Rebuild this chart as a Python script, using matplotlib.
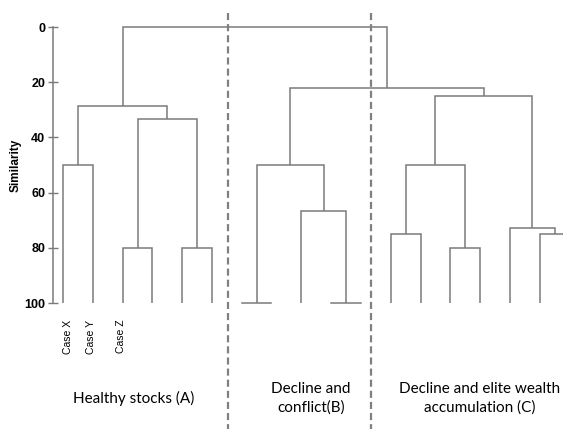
import matplotlib
matplotlib.use("Agg")
import matplotlib.pyplot as plt

# ---- data ----
group_names = ["Healthy stocks (A)", "Decline and\nconflict(B)", "Decline and elite wealth\naccumulation (C)"]
group_sizes = [6, 3, 7]
case_labels = ["Case X", "Case Y", "Case Z"]
# linkage rows: (left id, right id, similarity); leaves are 0..15, clusters 16..
merge_left = [0, 2, 4, 17, 16, 7, 6, 9, 11, 23, 14, 13, 25, 22, 20]
merge_right = [1, 3, 5, 18, 19, 8, 21, 10, 12, 24, 15, 26, 27, 28, 29]
merge_height = [50, 80, 80, 33.3, 28.5, 66.5, 50, 75, 80, 50, 75, 72.8, 25, 22.2, 0]
y_ticks = [0, 20, 40, 60, 80, 100]

# ---- layout ----
W, H = 563, 429
fig = plt.figure(figsize=(W / 100, H / 100), dpi=100)
x0_px, unit_px = 63, 29.8
ax_left_px, ax_top_px, ax_bot_px = 53, 27, 303
ax = fig.add_axes([ax_left_px / W, 1 - ax_bot_px / H, (W - ax_left_px) / W, (ax_bot_px - ax_top_px) / H])
ax.set_xlim((ax_left_px - x0_px) / unit_px, (W - x0_px) / unit_px)
ax.set_ylim(100, 0)

# leaf positions: groups separated, group B spread wider
steps = [1.0, 1.5, 1.0]
starts = [0.0, 6.5, 11.0]
leaf_x = []
for s, st, n in zip(starts, steps, group_sizes):
    leaf_x += [s + st * i for i in range(n)]
n_leaves = len(leaf_x)

pos = {i: leaf_x[i] for i in range(n_leaves)}
hgt = {i: 100 for i in range(n_leaves)}
lc = "#7a7a7a"
lw = 1.1
for k, (l, r, h) in enumerate(zip(merge_left, merge_right, merge_height)):
    cid = n_leaves + k
    xl, xr = pos[l], pos[r]
    ax.plot([xl, xl, xr, xr], [hgt[l], h, h, hgt[r]], color=lc, lw=lw, clip_on=False,
            solid_capstyle="butt", solid_joinstyle="miter")
    pos[cid] = (xl + xr) / 2
    hgt[cid] = h

# small T bars at the two outer leaves of group B
for i in (6, 8):
    ax.plot([leaf_x[i] - 0.49, leaf_x[i] + 0.49], [100, 100], color=lc, lw=lw, clip_on=False)

# dashed separators
for xs in [(228 - x0_px) / unit_px, (371 - x0_px) / unit_px]:
    ax.plot([xs, xs], [-5, 150], color="#808080", lw=1.6, ls=(0, (3.2, 1.8)), clip_on=False)

# axes styling
for s in ["top", "right", "bottom"]:
    ax.spines[s].set_visible(False)
ax.spines["left"].set_color(lc)
ax.spines["left"].set_linewidth(1.1)
ax.set_xticks([])
ax.set_yticks(y_ticks)
ax.tick_params(axis="y", direction="inout", length=7, width=1.0, color=lc,
               labelsize=9, pad=2)
for t in ax.get_yticklabels():
    t.set_fontweight("bold")
    t.set_family("Liberation Sans")
ax.set_ylabel("Similarity", fontsize=8.5, family="Liberation Sans", fontweight="bold", labelpad=2)

# case labels
case_offsets = [0.17, -0.06, -0.05]
for i, lab in enumerate(case_labels):
    ax.text(leaf_x[i] + case_offsets[i], 106, lab, rotation=90, ha="center", va="top",
            fontsize=7.5, family="Liberation Sans", clip_on=False)

# group labels
group_cx = [(134 - x0_px) / unit_px, (311 - x0_px) / unit_px, (480 - x0_px) / unit_px]
for cx, name in zip(group_cx, group_names):
    ax.text(cx, 134.5, name, ha="center", va="center", fontsize=11, family="Lato",
            linespacing=1.35, clip_on=False)

fig.savefig("out.png", dpi=100)
